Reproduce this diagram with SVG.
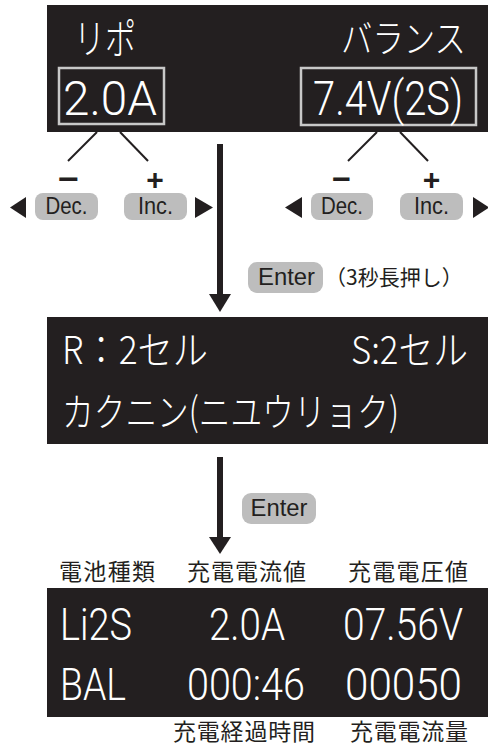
<svg xmlns="http://www.w3.org/2000/svg" width="488" height="746" viewBox="0 0 488 746">
<style>
.panel{fill:#231f20}
.frame{fill:none;stroke:#c8c8c8;stroke-width:2.5}
.lcd{fill:#ffffff;font-family:"Roboto","Liberation Sans","Noto Sans CJK JP",sans-serif;font-weight:300}
.jp{font-family:"Noto Sans CJK JP","Noto Sans",sans-serif;font-weight:300}
.pill{fill:#bdbdbd}
.pt{fill:#231f20;font-family:"Liberation Sans",Arial,sans-serif;text-anchor:middle}
.sign{fill:#231f20;font-family:"Liberation Sans",Arial,sans-serif;font-size:30px;font-weight:bold;text-anchor:middle}
.lbl{fill:#231f20;font-family:"Noto Sans CJK JP",sans-serif;font-size:23px}
.ln{stroke:#231f20;stroke-width:2;fill:none}
.shaft{stroke:#231f20;stroke-width:6}
.tri{fill:#231f20}
</style>

<g id="setup-panel">
  <rect class="panel" x="47" y="5" width="441" height="127"/>
  <text class="lcd jp" x="74" y="54" font-size="41" textLength="62" lengthAdjust="spacingAndGlyphs">リポ</text>
  <text class="lcd jp" x="341" y="52" font-size="38" textLength="125" lengthAdjust="spacingAndGlyphs">バランス</text>
  <rect class="frame" x="59" y="68" width="105" height="56"/>
  <text class="lcd" x="63" y="115" font-size="48" textLength="94" lengthAdjust="spacingAndGlyphs">2.0A</text>
  <rect class="frame" x="301" y="68" width="175" height="57"/>
  <text class="lcd" x="313" y="115" font-size="48" textLength="150" lengthAdjust="spacingAndGlyphs">7.4V(2S)</text>
</g>

<g id="left-buttons">
  <text class="sign" x="68.5" y="189" textLength="21" lengthAdjust="spacingAndGlyphs">−</text>
  <text class="sign" x="155" y="190">+</text>
  <polygon class="tri" points="10,207.5 26,197 26,218"/>
  <rect class="pill" x="35" y="193" width="63" height="27" rx="8"/>
  <text class="pt" x="66.5" y="214" font-size="23" textLength="42" lengthAdjust="spacingAndGlyphs">Dec.</text>
  <rect class="pill" x="124" y="193" width="63" height="27" rx="8"/>
  <text class="pt" x="155.5" y="214" font-size="23" textLength="35" lengthAdjust="spacingAndGlyphs">Inc.</text>
  <polygon class="tri" points="195,197 213,207.5 195,218"/>
</g>

<g id="right-buttons">
  <text class="sign" x="341.5" y="189" textLength="19" lengthAdjust="spacingAndGlyphs">−</text>
  <text class="sign" x="431.5" y="190">+</text>
  <polygon class="tri" points="285,207.5 302,197 302,218"/>
  <rect class="pill" x="311" y="193" width="62" height="27" rx="8"/>
  <text class="pt" x="342" y="214" font-size="23" textLength="42" lengthAdjust="spacingAndGlyphs">Dec.</text>
  <rect class="pill" x="400" y="193" width="63" height="27" rx="8"/>
  <text class="pt" x="431.5" y="214" font-size="23" textLength="35" lengthAdjust="spacingAndGlyphs">Inc.</text>
  <polygon class="tri" points="473,197 489,207.5 473,218"/>
</g>

<g id="enter-long">
  <rect class="pill" x="248" y="262" width="75" height="31" rx="9"/>
  <text class="pt" x="286.5" y="285" font-size="24" textLength="57" lengthAdjust="spacingAndGlyphs">Enter</text>
  <text class="lbl" x="325" y="285" style="font-size:21px">（3秒長押し）</text>
</g>

<g id="check-panel">
  <rect class="panel" x="47" y="317" width="441" height="127"/>
  <text class="lcd jp" x="62" y="364" font-size="39" textLength="146" lengthAdjust="spacingAndGlyphs">R：2セル</text>
  <text class="lcd jp" x="351" y="364" font-size="39" textLength="117" lengthAdjust="spacingAndGlyphs">S:2セル</text>
  <text class="lcd jp" x="62" y="426" font-size="39" textLength="337" lengthAdjust="spacingAndGlyphs">カクニン(ニユウリョク)</text>
</g>

<g id="enter">
  <rect class="pill" x="242" y="493" width="74" height="31" rx="9"/>
  <text class="pt" x="279" y="516" font-size="24" textLength="57" lengthAdjust="spacingAndGlyphs">Enter</text>
</g>

<g id="charge-panel">
  <text class="lbl" x="59" y="580" textLength="96">電池種類</text>
  <text class="lbl" x="187" y="580" textLength="119">充電電流値</text>
  <text class="lbl" x="348" y="580" textLength="120">充電電圧値</text>
  <rect class="panel" x="47" y="588" width="441" height="129"/>
  <text class="lcd" x="60" y="640" font-size="45" textLength="72" lengthAdjust="spacingAndGlyphs">Li2S</text>
  <text class="lcd" x="209" y="640" font-size="45" textLength="76" lengthAdjust="spacingAndGlyphs">2.0A</text>
  <text class="lcd" x="343" y="640" font-size="45" textLength="120" lengthAdjust="spacingAndGlyphs">07.56V</text>
  <text class="lcd" x="60" y="700" font-size="45" textLength="66" lengthAdjust="spacingAndGlyphs">BAL</text>
  <text class="lcd" x="187" y="700" font-size="45" textLength="118" lengthAdjust="spacingAndGlyphs">000:46</text>
  <text class="lcd" x="345" y="700" font-size="45" textLength="117" lengthAdjust="spacingAndGlyphs">00050</text>
  <text class="lbl" x="173" y="740" textLength="142">充電経過時間</text>
  <text class="lbl" x="350" y="740" textLength="118">充電電流量</text>
</g>

<g id="connectors">
  <line class="ln" x1="97" y1="132" x2="68" y2="161"/>
  <line class="ln" x1="120" y1="132" x2="148" y2="161"/>
  <line class="ln" x1="377" y1="132" x2="348" y2="161"/>
  <line class="ln" x1="400" y1="132" x2="428" y2="161"/>
  <line class="shaft" x1="220" y1="144" x2="220" y2="296"/>
  <polygon class="tri" points="209,294 231,294 220,312"/>
  <line class="shaft" x1="220" y1="457" x2="220" y2="539"/>
  <polygon class="tri" points="209,537 231,537 220,554"/>
</g>
</svg>
